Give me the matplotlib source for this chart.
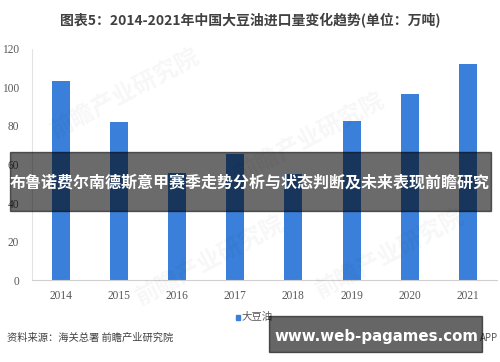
import numpy as np
import matplotlib.pyplot as plt
from matplotlib.patches import Rectangle

plt.rcParams['font.family'] = ['Noto Sans CJK SC', 'DejaVu Sans']

# 数据
years = ['2014', '2015', '2016', '2017', '2018', '2019', '2020', '2021']
imports = [103.5, 82.0, 55.7, 65.3, 55.0, 82.7, 96.4, 112.0]
yticks = [0, 20, 40, 60, 80, 100, 120]

title = '图表5：2014-2021年中国大豆油进口量变化趋势(单位：万吨)'
overlay = '布鲁诺费尔南德斯意甲赛季走势分析与状态判断及未来表现前瞻研究'
source = '资料来源：海关总署 前瞻产业研究院'

fig = plt.figure(figsize=(5, 3.62), dpi=100)
ax = fig.add_axes([0.063, 0.2257, 0.931, 0.6398])

x = np.arange(len(years))
ax.bar(x, imports, width=0.31, color='#3a7fd9', zorder=2)

ax.set_xlim(-0.5, len(years) - 0.5)
ax.set_ylim(0, 120)
ax.set_xticks(x)
ax.set_xticklabels(years, family='Liberation Serif', fontsize=8.3, color='#595959')
ax.set_yticks(yticks)
ax.set_yticklabels([str(v) for v in yticks], family='Liberation Serif', fontsize=8.3, color='#595959')
ax.tick_params(length=0)
ax.tick_params(axis='x', pad=7)
ax.tick_params(axis='y', pad=9)
for s in ['top', 'right']:
    ax.spines[s].set_visible(False)
ax.spines['left'].set_color('#e3e3e3')
ax.spines['bottom'].set_color('#d0d0d0')
ax.spines['left'].set_linewidth(0.8)
ax.spines['bottom'].set_linewidth(0.8)

# 水印（淡）
for wx, wy in [(0.25, 0.74), (0.62, 0.62), (0.42, 0.28), (0.78, 0.30)]:
    fig.text(wx, wy, '前瞻产业研究院', fontsize=17, color='#000000', alpha=0.035,
             rotation=28, ha='center', va='center', fontweight='bold')

# 标题
fig.text(0.5, 0.943, title, fontsize=10, fontweight='bold', color='#404040',
         ha='center', va='center')

# 图例
fig.patches.append(Rectangle((0.471, 0.117), 0.009, 0.0125, transform=fig.transFigure,
                             color='#3a7fd9'))
fig.text(0.483, 0.124, '大豆油', fontsize=7.5, color='#595959', va='center')

# 来源
fig.text(0.014, 0.066, source, fontsize=7.4, color='#404040', va='center')
fig.text(0.996, 0.066, 'APP', fontsize=7.0, color='#595959', va='center', ha='right')

# 叠加条带
fig.patches.append(Rectangle((0.02, 0.417), 0.962, 0.163, transform=fig.transFigure,
                             color='black', alpha=0.58, zorder=5))
fig.text(0.5, 0.495, overlay, fontsize=11.5, fontweight='bold', color='white',
         ha='center', va='center', zorder=6)

fig.patches.append(Rectangle((0.538, 0.028), 0.425, 0.099, transform=fig.transFigure,
                             color='black', alpha=0.6, zorder=5))
fig.text(0.753, 0.070, 'www.web-pagames.com', fontsize=10.8, fontweight='bold',
         color='white', ha='center', va='center', family='DejaVu Sans', zorder=6)

fig.savefig('out.png', dpi=100)
